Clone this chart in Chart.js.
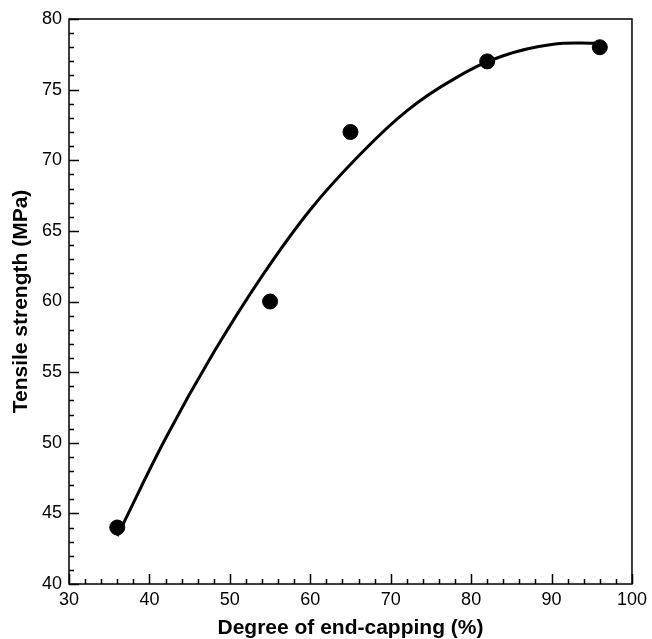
<!DOCTYPE html>
<html>
<head>
<meta charset="utf-8">
<script src="https://cdn.jsdelivr.net/npm/chart.js@4"></script>
<style>
  html, body { margin: 0; padding: 0; background: #fff; }
  #wrap { width: 652px; height: 639px; }
</style>
</head>
<body>
<div id="wrap"><canvas id="grafico"></canvas></div>
<script>
// measured samples
const endCapping = [36, 55, 65, 82, 96];
const tensile = [44, 60, 72, 77, 78];

// fitted trend line
const fitX = [36, 42, 48, 54, 60, 66, 72, 78, 84, 90, 96];
const fitY = [43.4, 50.3, 56.4, 61.8, 66.5, 70.3, 73.5, 75.8, 77.4, 78.2, 78.3];

const xTicks = [30, 40, 50, 60, 70, 80, 90, 100];
const yTicks = [40, 45, 50, 55, 60, 65, 70, 75, 80];

const FONT = "'Liberation Sans', Arial, sans-serif";

// frame + inward ticks (major and minor)
const moldura = {
  id: 'moldura',
  afterDraw(chart) {
    const ctx = chart.ctx;
    const a = chart.chartArea;
    const sx = chart.scales.x, sy = chart.scales.y;
    ctx.save();
    ctx.strokeStyle = '#000';
    ctx.lineWidth = 1.5;
    ctx.strokeRect(a.left, a.top, a.right - a.left, a.bottom - a.top);

    ctx.beginPath();
    for (let v = 30; v <= 100; v += 2) {
      const px = Math.round(sx.getPixelForValue(v)) + 0.5;
      const len = v % 10 === 0 ? 10 : 5;
      ctx.moveTo(px, a.bottom);
      ctx.lineTo(px, a.bottom - len);
    }
    for (let v = 40; v <= 80; v += 1) {
      const py = Math.round(sy.getPixelForValue(v)) + 0.5;
      const len = v % 5 === 0 ? 10 : 5;
      ctx.moveTo(a.left, py);
      ctx.lineTo(a.left + len, py);
    }
    ctx.stroke();
    ctx.restore();
  }
};

new Chart(document.getElementById('grafico'), {
  type: 'scatter',
  data: {
    datasets: [
      {
        label: 'ajuste',
        type: 'line',
        data: fitX.map((x, i) => ({ x: x, y: fitY[i] })),
        borderColor: '#000',
        borderWidth: 3,
        pointRadius: 0,
        tension: 0.4,
        fill: false
      },
      {
        label: 'dados',
        data: endCapping.map((x, i) => ({ x: x, y: tensile[i] })),
        backgroundColor: '#000',
        borderColor: '#000',
        pointRadius: 7.5,
        pointHoverRadius: 7.5
      }
    ]
  },
  options: {
    responsive: true,
    maintainAspectRatio: false,
    animation: false,
    layout: { padding: { top: 19, right: 17, left: 0, bottom: 0 } },
    plugins: { legend: { display: false }, tooltip: { enabled: false } },
    scales: {
      x: {
        type: 'linear',
        min: 30, max: 100,
        afterFit(s) { s.height = 55; },
        afterBuildTicks(s) { s.ticks = xTicks.map(v => ({ value: v })); },
        grid: { display: false, drawTicks: false },
        border: { display: false },
        ticks: { color: '#000', padding: 5, font: { family: FONT, size: 18 } },
        title: {
          display: true,
          text: 'Degree of end-capping (%)',
          color: '#000',
          padding: { top: 4, bottom: 0 },
          font: { family: FONT, size: 21, weight: 'bold', lineHeight: 1 }
        }
      },
      y: {
        type: 'linear',
        min: 40, max: 80,
        afterFit(s) { s.width = 69; },
        afterBuildTicks(s) { s.ticks = yTicks.map(v => ({ value: v })); },
        grid: { display: false, drawTicks: false },
        border: { display: false },
        ticks: { color: '#000', padding: 7, font: { family: FONT, size: 18 } },
        title: {
          display: true,
          text: 'Tensile strength (MPa)',
          color: '#000',
          padding: { top: 9, bottom: 0 },
          font: { family: FONT, size: 21, weight: 'bold' }
        }
      }
    }
  },
  plugins: [moldura]
});
</script>
</body>
</html>
